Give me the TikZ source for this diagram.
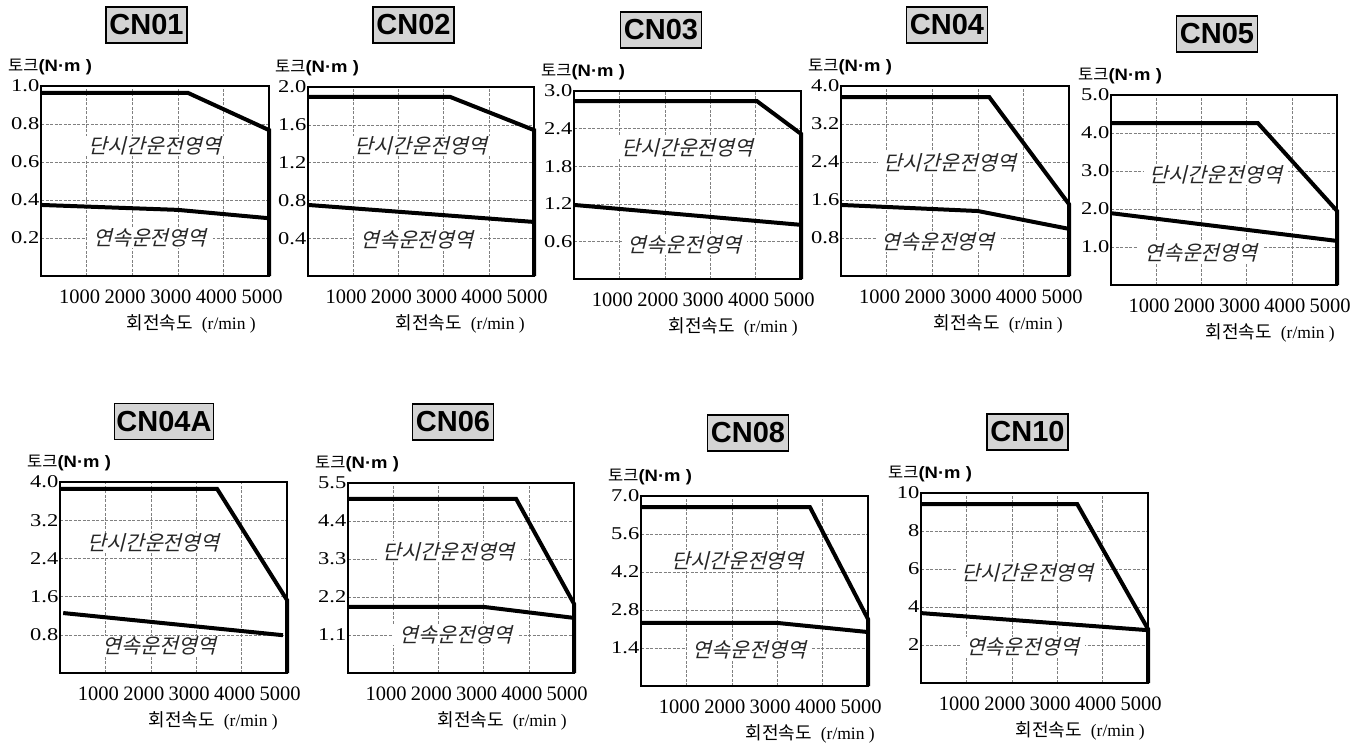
\documentclass[tikz,border=0pt]{standalone}
\usepackage{fontspec}
\setmainfont{Liberation Serif}
\newfontfamily\tickfont[FakeStretch=1.25]{Liberation Serif}
\newfontfamily\titlefont{Liberation Sans}
\newfontfamily\unitfont[FakeStretch=1.12]{Liberation Sans}
\newfontfamily\hangul{Noto Sans CJK KR}
\newfontfamily\hangulslant[FakeSlant=0.25]{Noto Sans CJK KR}
\definecolor{TitleGray}{HTML}{D4D4D4}
\definecolor{GridGray}{HTML}{808080}

\begin{document}
\begin{tikzpicture}[
    gridline/.style = {GridGray, line width=0.6pt, dash pattern=on 3pt off 1.5pt},
    boxline/.style  = {line width=2.2pt},
    torque/.style   = {line width=4pt},
    titlebox/.style = {draw, line width=1.5pt, fill=TitleGray, minimum width=81pt,
                       minimum height=36pt, inner xsep=2pt,
                       font={\titlefont\bfseries\fontsize{29}{30}\selectfont}},
    ytick/.style    = {anchor=east, inner sep=0pt, xshift=-1.5pt, font={\tickfont\fontsize{18}{20}\selectfont}},
    xtick/.style    = {inner sep=0pt, xshift=-7pt, yshift=-21pt, font={\fontsize{20.5}{22}\selectfont}},
    axislabel/.style = {inner sep=0pt},
    region/.style   = {fill=white, text=black!85, inner xsep=6pt, inner ysep=1pt,
                       font={\hangulslant\fontsize{20.5}{22}\selectfont}},
  ]
\useasboundingbox (0,0) rectangle (1355pt,-744pt);

% frame of one torque plot: #1 name, #2 torque ticks, #3 shift of speed label
\def\PlotFrame#1#2#3{
  \foreach \i in {1,...,4}
    \draw[gridline] (\i,0) -- (\i,5) (0,\i) -- (5,\i);
  \draw[boxline] (0,0) rectangle (5,5);
  \foreach \i/\t in {#2}
    \node[ytick] (#1-y\i) at (0,\i) {\t};
  \foreach \i in {1,...,5}
    \node[xtick] (#1-x\i) at (\i,0) {\i000};
  \node[axislabel, anchor=west, xshift=-33pt, yshift=19pt] (#1-torque) at (0,5)
    {{\hangul\fontsize{16.5}{20}\selectfont 토크}{\unitfont\bfseries\fontsize{16.5}{20}\selectfont(N·m )}};
  \node[axislabel, anchor=east, xshift=#3, yshift=-48pt] (#1-speed) at (5,0)
    {{\hangul\fontsize{18}{20}\selectfont 회전속도}\hspace{9pt}{\fontsize{17.5}{20}\selectfont(r/min )}};
}

% top row
\node[titlebox] (cn01) at (146.5pt,-25pt) {CN01};
\begin{scope}[shift={(41pt,-276pt)}, x=45.6pt, y=38pt]
  \PlotFrame{cn01}{1/0.2,2/0.4,3/0.6,4/0.8,5/1.0}{-13pt}
  \draw[torque] (0,4.82) -- (3.22,4.82) -- (5,3.84) -- (5,0);
  \draw[torque] (0,1.87) -- (3,1.74) -- (5,1.52);
  \node[region] (cn01-peak) at (2.5,3.42) {단시간운전영역};
  \node[region] (cn01-cont) at (2.39,1) {연속운전영역};
\end{scope}

\node[titlebox] (cn02) at (413.5pt,-25pt) {CN02};
\begin{scope}[shift={(308pt,-276pt)}, x=45.2pt, y=37.8pt]
  \PlotFrame{cn02}{1/0.4,2/0.8,3/1.2,4/1.6,5/2.0}{-9pt}
  \draw[torque] (0,4.74) -- (3.14,4.74) -- (5,3.86) -- (5,0);
  \draw[torque] (0,1.88) -- (5,1.43);
  \node[region] (cn02-peak) at (2.5,3.44) {단시간운전영역};
  \node[region] (cn02-cont) at (2.41,0.95) {연속운전영역};
\end{scope}

\node[titlebox] (cn03) at (661pt,-30pt) {CN03};
\begin{scope}[shift={(574pt,-279pt)}, x=45.4pt, y=37.6pt]
  \PlotFrame{cn03}{1/0.6,2/1.2,3/1.8,4/2.4,5/3.0}{-3pt}
  \draw[torque] (0,4.73) -- (4.03,4.73) -- (5,3.86) -- (5,0);
  \draw[torque] (0,1.97) -- (5,1.44);
  \node[region] (cn03-peak) at (2.5,3.5) {단시간운전영역};
  \node[region] (cn03-cont) at (2.43,0.9) {연속운전영역};
\end{scope}

\node[titlebox] (cn04) at (947pt,-25pt) {CN04};
\begin{scope}[shift={(841pt,-276pt)}, x=45.6pt, y=38pt]
  \PlotFrame{cn04}{1/0.8,2/1.6,3/2.4,4/3.2,5/4.0}{-6pt}
  \draw[torque] (0,4.71) -- (3.25,4.71) -- (5,1.89) -- (5,0);
  \draw[torque] (0,1.87) -- (3,1.71) -- (5,1.24);
  \node[region] (cn04-peak) at (2.39,2.98) {단시간운전영역};
  \node[region] (cn04-cont) at (2.13,0.9) {연속운전영역};
\end{scope}

\node[titlebox] (cn05) at (1217pt,-34pt) {CN05};
\begin{scope}[shift={(1111pt,-285pt)}, x=45.2pt, y=38pt]
  \PlotFrame{cn05}{1/1.0,2/2.0,3/3.0,4/4.0,5/5.0}{-2pt}
  \draw[torque] (0,4.26) -- (3.25,4.26) -- (5,1.95) -- (5,0);
  \draw[torque] (0,1.89) -- (5,1.16);
  \node[region] (cn05-peak) at (2.32,2.9) {단시간운전영역};
  \node[region] (cn05-cont) at (1.99,0.85) {연속운전영역};
\end{scope}

% bottom row
\node[titlebox] (cn04a) at (164pt,-421.5pt) {CN04A};
\begin{scope}[shift={(60pt,-673pt)}, x=45.4pt, y=38.2pt]
  \PlotFrame{cn04a}{1/0.8,2/1.6,3/2.4,4/3.2,5/4.0}{-9pt}
  \draw[torque] (0,4.82) -- (3.46,4.82) -- (5,1.91) -- (5,0);
  \draw[torque] (0.07,1.57) -- (4.91,0.99);
  \node[region] (cn04a-peak) at (2.06,3.4) {단시간운전영역};
  \node[region] (cn04a-cont) at (2.19,0.7) {연속운전영역};
\end{scope}

\node[titlebox] (cn06) at (453pt,-422pt) {CN06};
\begin{scope}[shift={(348pt,-673pt)}, x=45.2pt, y=38pt]
  \PlotFrame{cn06}{1/1.1,2/2.2,3/3.3,4/4.4,5/5.5}{-7pt}
  \draw[torque] (0,4.58) -- (3.72,4.58) -- (5,1.82) -- (5,0);
  \draw[torque] (0,1.74) -- (3,1.74) -- (5,1.45);
  \node[region] (cn06-peak) at (2.23,3.2) {단시간운전영역};
  \node[region] (cn06-cont) at (2.39,1) {연속운전영역};
\end{scope}

\node[titlebox] (cn08) at (748pt,-433pt) {CN08};
\begin{scope}[shift={(641pt,-686pt)}, x=45.4pt, y=38pt]
  \PlotFrame{cn08}{1/1.4,2/2.8,3/4.2,4/5.6,5/7.0}{7pt}
  \draw[torque] (0,4.71) -- (3.72,4.71) -- (5,1.76) -- (5,0);
  \draw[torque] (0,1.66) -- (3,1.66) -- (5,1.42);
  \node[region] (cn08-peak) at (2.13,3.3) {단시간운전영역};
  \node[region] (cn08-cont) at (2.39,0.95) {연속운전영역};
\end{scope}

\node[titlebox] (cn10) at (1027.5pt,-432pt) {CN10};
\begin{scope}[shift={(921pt,-683pt)}, x=45.4pt, y=38pt]
  \PlotFrame{cn10}{1/2,2/4,3/6,4/8,5/10}{-3pt}
  \draw[torque] (0,4.71) -- (3.44,4.71) -- (5,1.42) -- (5,0);
  \draw[torque] (0,1.84) -- (5,1.39);
  \node[region] (cn10-peak) at (2.35,2.9) {단시간운전영역};
  \node[region] (cn10-cont) at (2.24,0.95) {연속운전영역};
\end{scope}

\end{tikzpicture}
\end{document}
